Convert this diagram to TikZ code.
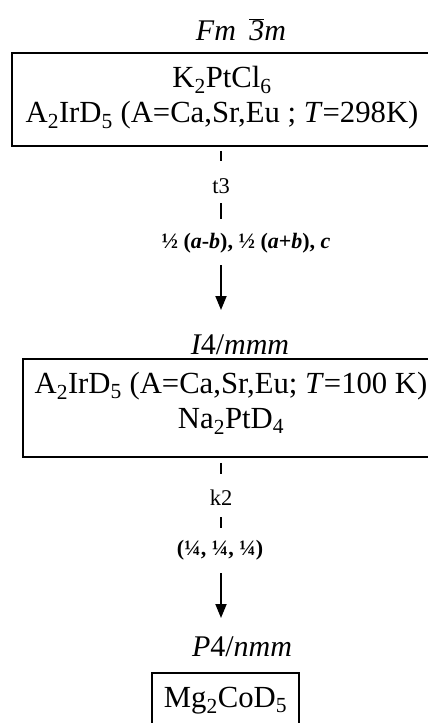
\documentclass[tikz,border=0pt]{standalone}
\usepackage{fontspec}
\setmainfont{Liberation Serif}
\usetikzlibrary{arrows.meta}
\begin{document}
\begin{tikzpicture}[x=1pt,y=-1pt,
  sg/.style={font=\fontsize{30}{34}\selectfont\itshape, inner sep=0pt},
  box/.style={draw, line width=1.8pt, align=center, inner sep=0pt,
    font=\fontsize{30.7}{35}\selectfont},
  lbl/.style={font=\fontsize{22.5}{24}\selectfont, inner sep=0pt},
  blbl/.style={font=\fontsize{22}{24}\selectfont\bfseries, inner sep=0pt},
  conn/.style={line width=1.8pt},
  arr/.style={line width=1.8pt, -{Triangle[length=14pt,width=11pt]}}]
\useasboundingbox (0,0) rectangle (428,723);

% space group labels
\node[sg] (sg1) at (241,30) {Fm\hspace{0.45em}$\overline{\mbox{\fontsize{30}{34}\selectfont\itshape 3}}$m};
\node[sg] (sg2) at (240,345) {I\upshape 4/\itshape mmm};
\node[sg] (sg3) at (242,647) {P\upshape 4/\itshape nmm};

% boxes
\node[box, minimum width=420pt, minimum height=93pt, text depth=10pt] (b1) at (222,99.5)
  {K\textsubscript{2}PtCl\textsubscript{6}\\A\textsubscript{2}IrD\textsubscript{5} (A=Ca,Sr,Eu ; \textit{T}=298K)};
\node[box, minimum width=416pt, minimum height=98pt, text depth=15.5pt] (b2) at (231,408)
  {A\textsubscript{2}IrD\textsubscript{5} (A=Ca,Sr,Eu; \textit{T}=100 K)\\Na\textsubscript{2}PtD\textsubscript{4}};
\node[box, minimum width=147pt, minimum height=58pt, text depth=9.5pt] (b3) at (225.5,702)
  {Mg\textsubscript{2}CoD\textsubscript{5}};

% connector 1
\node[lbl] (t3) at (221,186) {t3};
\node[blbl] (m1) at (246,243) {½ (\textit{a}-\textit{b}), ½ (\textit{a}+\textit{b}), \textit{c}};
\coordinate (e1) at (221,310);
\draw[conn] (b1.south -| t3) ++(0,4) -- ++(0,10);
\draw[conn] (t3) ++(0,17) -- ++(0,16);
\draw[arr] (t3 |- m1) ++(0,22) -- (e1);

% connector 2
\node[lbl] (k2) at (221,498) {k2};
\node[blbl] (m2) at (220,550) {(¼, ¼, ¼)};
\coordinate (e2) at (221,618);
\draw[conn] (b2.south -| k2) ++(0,5) -- ++(0,11);
\draw[conn] (k2) ++(0,19) -- ++(0,11);
\draw[arr] (k2 |- m2) ++(0,23) -- (e2);
\end{tikzpicture}
\end{document}
